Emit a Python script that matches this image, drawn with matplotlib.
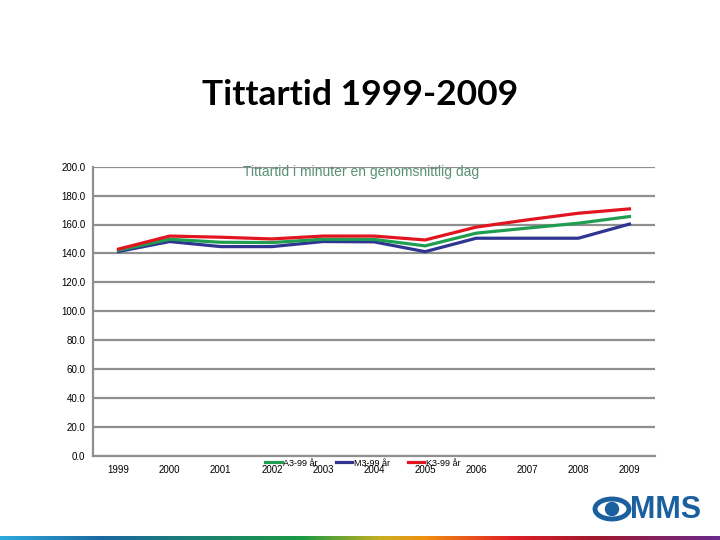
import matplotlib
matplotlib.use("Agg")
import matplotlib.pyplot as plt
import numpy as np
from matplotlib.patches import Ellipse, Circle
from matplotlib.colors import LinearSegmentedColormap

years = ["1999", "2000", "2001", "2002", "2003", "2004", "2005", "2006", "2007", "2008", "2009"]
a3_99 = [142.2, 149.8, 147.7, 147.5, 149.8, 149.7, 145.2, 154.0, 157.5, 160.9, 165.5]
m3_99 = [141.3, 148.2, 144.7, 144.7, 148.2, 148.0, 141.2, 150.5, 150.5, 150.5, 160.3]
k3_99 = [143.0, 152.0, 151.2, 150.0, 152.0, 152.0, 149.3, 158.2, 163.2, 167.8, 170.8]
series_names = ["A3-99 år", "M3-99 år", "K3-99 år"]
yticks = [0, 20, 40, 60, 80, 100, 120, 140, 160, 180, 200]

fig = plt.figure(figsize=(7.2, 5.4), dpi=100)
fig.patch.set_facecolor("white")

ax = fig.add_axes([93/720, 1-455.7/540, (655-93)/720, (455.7-166.7)/540])
x = np.arange(len(years))
l1, = ax.plot(x, a3_99, color="#1f9e52", lw=2.3, solid_joinstyle="miter", zorder=3)
l2, = ax.plot(x, m3_99, color="#2f3590", lw=2.3, solid_joinstyle="miter", zorder=2)
l3, = ax.plot(x, k3_99, color="#e0151f", lw=2.3, solid_joinstyle="miter", zorder=4)

ax.set_xlim(-0.5, len(years) - 0.5)
ax.set_ylim(0, 200)
ax.set_yticks(yticks)
ax.set_yticklabels([f"{v:.1f}" for v in yticks], fontsize=7, family="Liberation Sans")
ax.set_xticks(x)
ax.set_xticklabels(years, fontsize=7, family="Liberation Sans")
ax.tick_params(axis="both", length=0)
ax.tick_params(axis="y", pad=5.5)
ax.tick_params(axis="x", pad=7)
ax.grid(axis="y", color="#8f8f8f", lw=1.6)
ax.set_axisbelow(True)
for s in ["top", "right"]:
    ax.spines[s].set_visible(False)
for s in ["left", "bottom"]:
    ax.spines[s].set_color("#8f8f8f")
    ax.spines[s].set_linewidth(1.6)

fig.text(361/720, 1-172/540, "Tittartid i minuter en genomsnittlig dag", ha="center", va="center",
         fontsize=10, color="#5a9076", family="Liberation Sans")

fig.text(0.5, 1-95/540, "Tittartid 1999-2009", ha="center", va="center",
         fontsize=25.5, fontweight="bold", family="Lato")

leg = fig.legend([l1, l2, l3], series_names, loc="center", bbox_to_anchor=(363/720, 1-463/540),
                 ncol=3, frameon=False, prop={"family": "Liberation Sans", "size": 6.5},
                 handlelength=1.8, handletextpad=0.2, columnspacing=2.0)

# bottom gradient strip
cmap = LinearSegmentedColormap.from_list("strip", [
    (0.0, "#2eaadc"), (0.14, "#1a68a0"), (0.42, "#1a9a42"), (0.53, "#c8b020"),
    (0.59, "#f09010"), (0.71, "#e02024"), (0.83, "#a0182e"), (1.0, "#6a2a8c")])
sax = fig.add_axes([0, 0, 1, 4/540])
sax.imshow(np.linspace(0, 1, 256)[None, :], aspect="auto", cmap=cmap, extent=[0, 1, 0, 1])
sax.axis("off")

# logo
lax = fig.add_axes([590/720, 1-525/540, 120/720, 32/540])
lax.set_xlim(0, 120)
lax.set_ylim(0, 32)
lax.axis("off")
blue = "#1a5f9e"
lax.add_patch(Ellipse((22, 16), 34, 20, facecolor="white", edgecolor=blue, lw=3.5))
lax.add_patch(Circle((22, 16), 6.5, color=blue))
lax.text(40, 15, "MMS", fontsize=22, fontweight="bold", color=blue, family="Liberation Sans",
         va="center", ha="left")

fig.savefig("out.png", dpi=100)
